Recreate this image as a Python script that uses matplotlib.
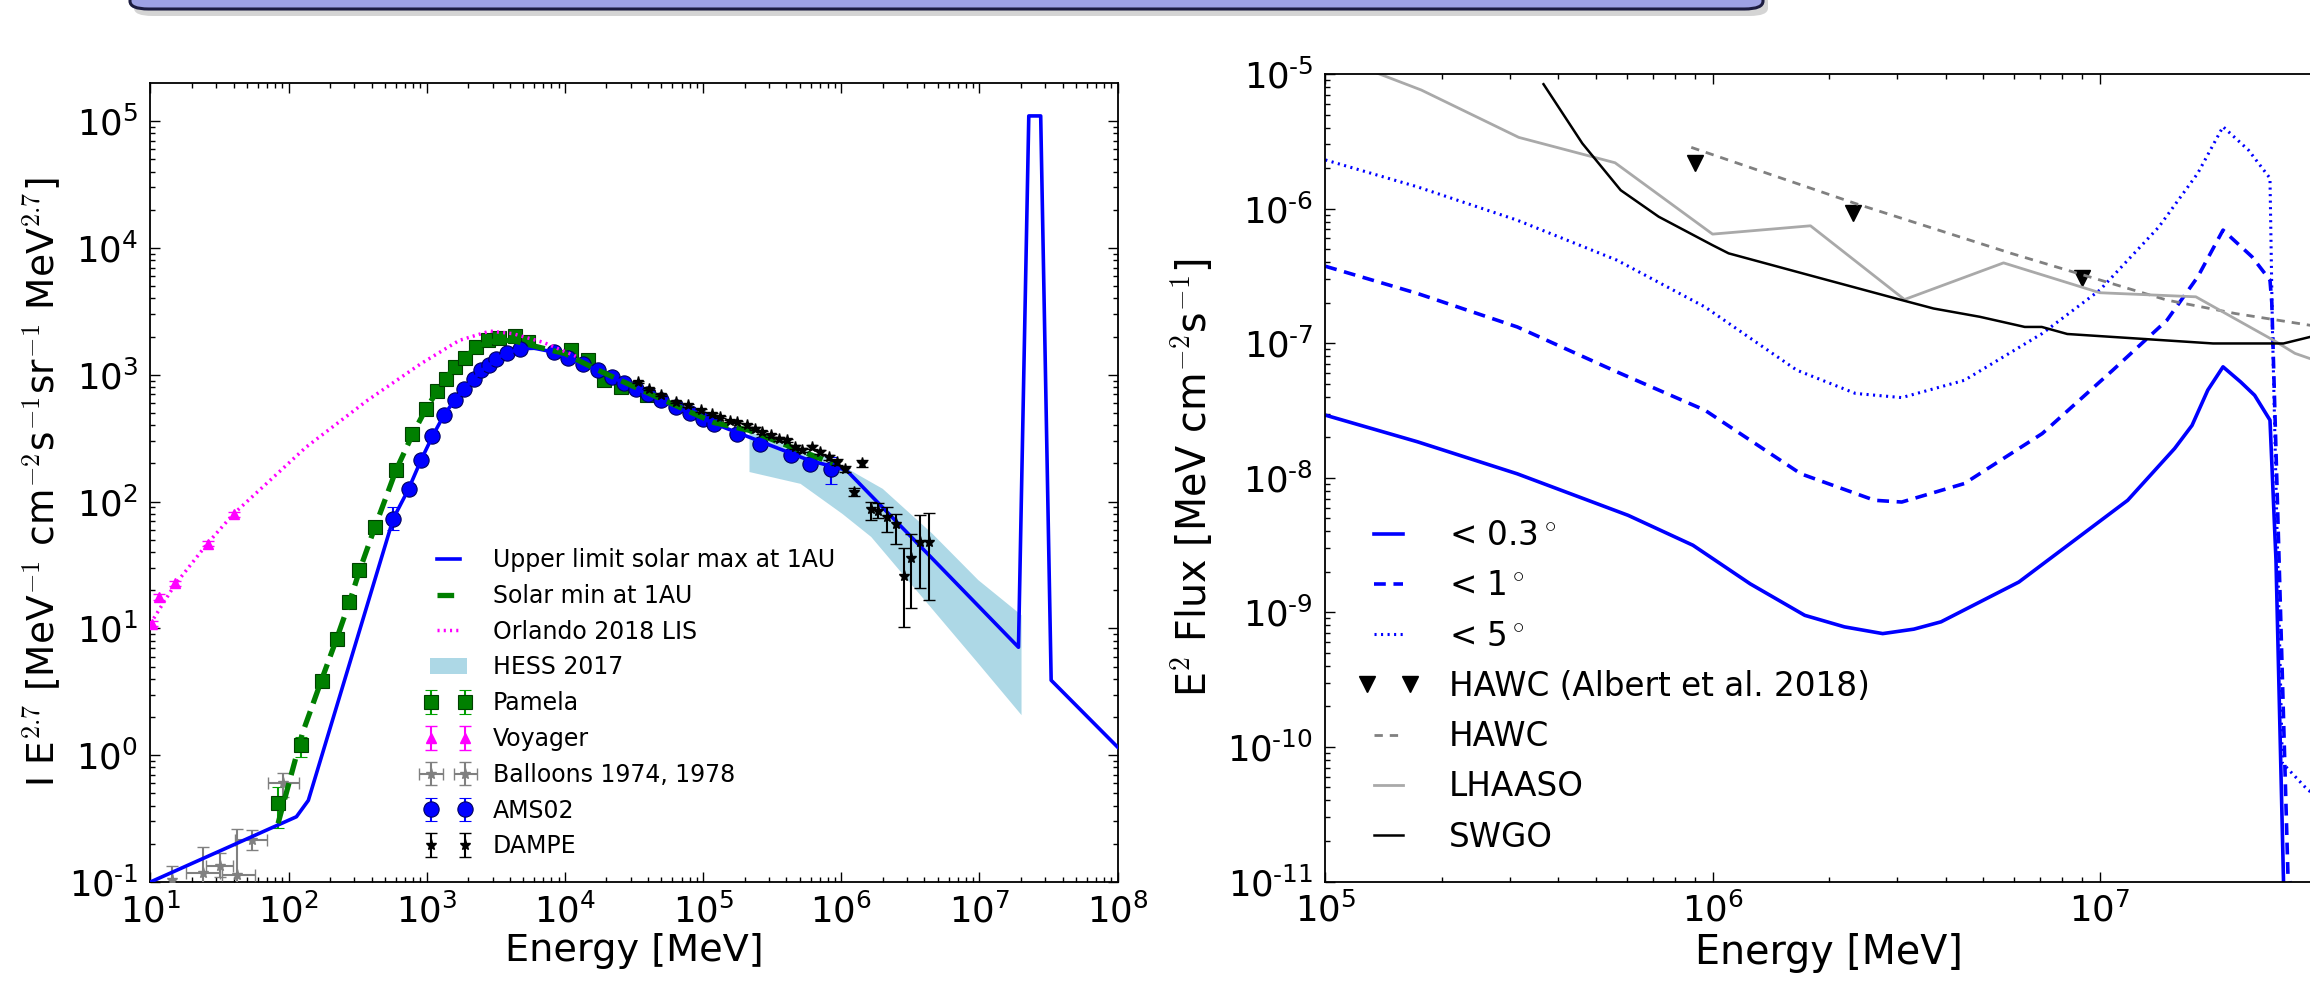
import numpy as np
import matplotlib
matplotlib.use("Agg")
import matplotlib.pyplot as plt
from matplotlib.patches import FancyBboxPatch
from matplotlib.ticker import FixedLocator, FuncFormatter, NullFormatter
from matplotlib.legend_handler import HandlerLine2D, HandlerErrorbar

# ---------------- left panel: proton spectrum ----------------
e_max = [10, 114, 139, 573, 740, 907, 1100, 1330, 1590, 1870, 2190, 2490, 2830, 3150,
         3800, 4760, 6000, 8300, 17300, 32700, 63800, 1.21e5, 2.6e5, 5.9e5, 1.09e6,
         1.92e7, 2.28e7, 2.78e7, 3.31e7, 1e8]
i_max = [0.1, 0.327, 0.44, 73.5, 126, 211, 327, 479, 628, 777, 931, 1083, 1186, 1340,
         1483, 1607, 1620, 1510, 1083, 777, 557, 411, 298, 211, 177,
         7.1, 1.1e5, 1.1e5, 3.9, 1.16]

e_min = [84, 126, 173, 223, 279, 327, 422, 600, 790, 990, 1190, 1370, 1590, 1890, 2290,
         2770, 3350, 4300, 5800, 10000, 17000, 33000, 64000, 1.2e5, 2.15e5, 4.5e5, 8.7e5]
i_min = [0.29, 1.49, 3.9, 8.3, 16.7, 28.8, 63, 177, 339, 541, 740, 931, 1150, 1365, 1652,
         1800, 1880, 1850, 1700, 1470, 1100, 790, 570, 420, 365, 265, 200]

e_lis = [10, 15, 26, 40, 134, 372, 907, 1718, 2863, 4200, 7000, 12000]
i_lis = [10.9, 22, 47, 80, 269, 628, 1222, 1866, 2211, 2110, 1800, 1400]

hess_lo_e = [2.17e5, 5.08e5, 1.02e6, 1.65e6, 9.84e6, 2.02e7]
hess_lo_i = [171, 138, 80, 52.6, 5.28, 2.07]
hess_hi_e = [2.17e5, 7.9e5, 2.0e6, 4.57e6, 9.84e6, 2.02e7]
hess_hi_i = [355, 224, 126, 55.8, 24, 12.7]

pam_e = [84, 124, 176, 223, 273, 323, 422, 600, 788, 986, 1194, 1374, 1589, 1890, 2290,
         2770, 3350, 4330, 5410, 11070, 14760, 19050, 25400, 39600]
pam_i = [0.417, 1.2, 3.86, 8.3, 16.2, 28.8, 63, 177, 339, 541, 740, 931, 1150, 1365, 1652,
         1866, 1960, 2005, 1810, 1575, 1297, 903, 800, 688]
pam_lo = [0.265, 0.97, 3.5, 7.7, 15.2, 27.5, 60, 170, 330, 530, 727, 915, 1130, 1345, 1630,
          1845, 1940, 1985, 1790, 1550, 1270, 880, 780, 665]
pam_hi = [0.56, 1.4, 4.2, 8.9, 17.2, 30.1, 66, 184, 348, 552, 753, 947, 1170, 1385, 1674,
          1887, 1980, 2025, 1830, 1600, 1324, 926, 820, 711]

voy_e = [10.2, 11.5, 15.1, 26, 40.4]
voy_i = [10.9, 17.7, 22.6, 46.7, 79.4]

bal_e = [14.3, 23.9, 31.9, 42, 54, 91.6]
bal_i = [0.104, 0.117, 0.134, 0.114, 0.214, 0.6]
bal_e_lo = [14.3, 18.1, 25.2, 32.8, 41, 70.6]
bal_e_hi = [14.3, 31.9, 39.8, 57.2, 69.5, 119]
bal_i_lo = [0.07, 0.08, 0.11, 0.05, 0.179, 0.47]
bal_i_hi = [0.134, 0.19, 0.168, 0.26, 0.257, 0.73]

ams_e = [573, 740, 907, 1100, 1330, 1590, 1870, 2190, 2490, 2830, 3150, 3800, 4760, 8300,
         10500, 13500, 17300, 22000, 27000, 32700, 40000, 50000, 63800, 80000, 1e5,
         1.21e5, 1.77e5, 2.6e5, 4.33e5, 5.94e5, 8.45e5]
ams_i = [73.5, 126, 211, 327, 479, 628, 777, 931, 1083, 1186, 1340, 1483, 1607, 1510,
         1358, 1213, 1083, 955, 858, 777, 702, 628, 557, 500, 450,
         411, 343, 287, 232, 199, 182]
ams_lo = [59.4] + [v * 0.97 for v in ams_i[1:-1]] + [138]
ams_hi = [90.6] + [v * 1.03 for v in ams_i[1:-1]] + [224]

dam_e = [3.37e4, 4.08e4, 4.95e4, 6.38e4, 7.73e4, 9.66e4, 1.17e5, 1.33e5, 1.56e5, 1.77e5,
         2.08e5, 2.36e5, 2.68e5, 3.1e5, 3.57e5, 4.06e5, 4.61e5, 5.24e5, 6.14e5, 6.98e5,
         8.18e5, 9.29e5, 1.06e6, 1.24e6, 1.41e6, 1.63e6, 1.85e6, 2.13e6, 2.49e6, 2.84e6,
         3.22e6, 3.73e6, 4.3e6]
dam_i = [877, 776, 689, 610, 574, 524, 493, 465, 431, 424,
         399, 376, 353, 333, 313, 304, 269, 254, 269, 246,
         224, 205, 182, 119, 200, 88, 85, 76, 67, 26,
         36, 48, 48]
dam_lo = [860, 760, 675, 598, 562, 513, 482, 455, 421, 414,
          389, 366, 343, 323, 303, 294, 260, 245, 258, 236,
          214, 195, 172, 110, 188, 71, 74, 57.5, 46.7, 10.2,
          14.4, 21, 16.7]
dam_hi = [894, 792, 703, 622, 586, 535, 504, 475, 441, 434,
          409, 386, 363, 343, 323, 314, 278, 263, 280, 256,
          234, 215, 192, 128, 212, 99, 97, 90.6, 80, 42.7,
          56, 78, 81]

# ---------------- right panel: gamma-ray flux ----------------
g_e03 = [1.0e5, 1.73e5, 3.13e5, 6.05e5, 8.9e5, 1.25e6, 1.73e6, 2.19e6, 2.75e6, 3.31e6,
         3.89e6, 6.18e6, 1.18e7, 1.56e7, 1.73e7, 1.9e7, 2.08e7, 2.31e7, 2.51e7, 2.75e7,
         2.85e7, 2.98e7, 3.02e7]
g_f03 = [2.92e-8, 1.85e-8, 1.07e-8, 5.26e-9, 3.15e-9, 1.63e-9, 9.5e-10, 7.8e-10, 6.95e-10,
         7.5e-10, 8.5e-10, 1.68e-9, 6.8e-9, 1.65e-8, 2.45e-8, 4.48e-8, 6.67e-8, 5.15e-8,
         4.1e-8, 2.68e-8, 2.44e-9, 1.02e-11, 1e-12]

g_e1 = [1.0e5, 1.73e5, 3.13e5, 5.66e5, 9.55e5, 1.69e6, 2.62e6, 3.08e6, 4.47e6, 7.1e6,
        1.08e7, 1.49e7, 1.79e7, 2.08e7, 2.47e7, 2.75e7, 2.78e7, 3.06e7, 3.16e7]
g_f1 = [3.73e-7, 2.34e-7, 1.32e-7, 6.12e-8, 3.18e-8, 1.07e-8, 6.8e-9, 6.6e-9, 9.06e-9,
        2.13e-8, 6.3e-8, 1.48e-7, 3.11e-7, 6.92e-7, 4.39e-7, 2.94e-7, 2.0e-7, 1.12e-11,
        8e-12]

g_e5 = [1.0e5, 1.73e5, 3.13e5, 5.66e5, 9.55e5, 1.65e6, 2.34e6, 3.08e6, 4.47e6, 7.1e6,
        1.0e7, 1.42e7, 1.79e7, 2.08e7, 2.42e7, 2.75e7, 2.79e7, 2.96e7, 3.44e7, 4.0e7]
g_f5 = [2.3e-6, 1.45e-6, 8.2e-7, 4.14e-7, 1.86e-7, 6.3e-8, 4.23e-8, 3.94e-8, 5.3e-8, 1.18e-7,
        2.48e-7, 7.3e-7, 1.83e-6, 4.06e-6, 2.72e-6, 1.68e-6, 1.3e-7, 7.6e-11, 4.8e-11, 3.6e-11]

hawc_pts_e = [9.02e5, 2.30e6, 8.97e6]
hawc_pts_f = [2.17e-6, 9.2e-7, 3.03e-7]

hawc_e = [8.81e5, 2.34e6, 5.9e6, 1.49e7, 2.24e7, 3.48e7, 4.0e7]
hawc_f = [2.85e-6, 1.09e-6, 4.65e-7, 2.09e-7, 1.66e-7, 1.36e-7, 1.3e-7]

lhaaso_e = [1.32e5, 1.77e5, 3.16e5, 5.6e5, 1.0e6, 1.79e6, 3.13e6, 5.64e6, 1.0e7, 1.77e7,
            2.81e7, 3.19e7, 3.48e7, 4.0e7]
lhaaso_f = [1.05e-5, 7.6e-6, 3.38e-6, 2.19e-6, 6.46e-7, 7.45e-7, 2.11e-7, 3.95e-7, 2.37e-7,
            2.21e-7, 1.05e-7, 8.4e-8, 7.7e-8, 7.2e-8]

swgo_e = [3.66e5, 4.61e5, 5.79e5, 7.26e5, 9.98e5, 1.1e6, 1.77e6, 3.08e6, 3.72e6, 4.9e6,
          6.4e6, 7.08e6, 8.24e6, 1.96e7, 2.98e7, 3.48e7, 4.0e7]
swgo_f = [8.4e-6, 3.05e-6, 1.37e-6, 8.7e-7, 5.36e-7, 4.65e-7, 3.21e-7, 2.09e-7, 1.81e-7,
          1.57e-7, 1.32e-7, 1.32e-7, 1.17e-7, 9.95e-8, 9.95e-8, 1.11e-7, 1.25e-7]

plt.rcParams['font.family'] = ['DejaVu Sans']
plt.rcParams['mathtext.fontset'] = 'cm'
plt.rcParams['lines.scale_dashes'] = False

W, H = 2310, 982
fig = plt.figure(figsize=(W / 100, H / 100), dpi=100)


def box(x0, y0, x1, y1):
    # pixel box (y measured from the top) -> figure fraction rect
    return [x0 / W, 1 - y1 / H, (x1 - x0) / W, (y1 - y0) / H]


# slide banner cut off at the top
shadow = FancyBboxPatch((134 / W, 1 - 16 / H), 1634 / W, 60 / H, transform=fig.transFigure,
                        boxstyle="round,pad=0,rounding_size=0.008", fc='#b8b8b8',
                        ec='none', alpha=0.6, zorder=0)
fig.patches.append(shadow)
banner = FancyBboxPatch((130 / W, 1 - 9 / H), 1633 / W, 60 / H, transform=fig.transFigure,
                        boxstyle="round,pad=0,rounding_size=0.008", fc='#9ea2e4',
                        ec='#1c1c40', lw=2.2, zorder=1)
fig.patches.append(banner)

ax1 = fig.add_axes(box(150.4, 83, 1117.5, 882))
# right panel runs a little past the right edge of the picture
ax2 = fig.add_axes(box(1325.3, 74, 2333, 881.5))


def decade(v, pos):
    n = int(round(np.log10(v)))
    if n < 0:
        return r'$\mathdefault{10^{\text{-}%d}}$' % (-n)
    return r'$\mathdefault{10^{%d}}$' % n


def log_ticks(lo, hi):
    # decade and sub-decade tick positions that fall inside [lo, hi]
    major = [10.0 ** n for n in range(lo, hi + 1)]
    minor = [k * 10.0 ** n for n in range(lo, hi) for k in range(2, 10)]
    return major, minor


def style(ax, xr, yr):
    ax.set_xscale('log')
    ax.set_yscale('log')
    xmaj, xmin = log_ticks(*xr)
    ymaj, ymin = log_ticks(*yr)
    ax.xaxis.set_major_locator(FixedLocator(xmaj))
    ax.xaxis.set_minor_locator(FixedLocator(xmin))
    ax.yaxis.set_major_locator(FixedLocator(ymaj))
    ax.yaxis.set_minor_locator(FixedLocator(ymin))
    ax.xaxis.set_major_formatter(FuncFormatter(decade))
    ax.yaxis.set_major_formatter(FuncFormatter(decade))
    ax.xaxis.set_minor_formatter(NullFormatter())
    ax.yaxis.set_minor_formatter(NullFormatter())
    ax.tick_params(which='both', direction='in', top=True, right=True, labelsize=25.5)
    ax.tick_params(which='major', length=7, width=1)
    ax.tick_params(which='minor', length=3.5, width=1)
    ax.tick_params(axis='x', pad=8)
    ax.tick_params(axis='y', pad=9)
    for s in ax.spines.values():
        s.set_linewidth(1.3)


style(ax1, (1, 8), (-1, 5))
style(ax2, (5, 7), (-11, -5))

# ---- left panel ----
hess = ax1.fill(hess_lo_e + hess_hi_e[::-1], hess_lo_i + hess_hi_i[::-1],
                color='lightblue', lw=0, zorder=1, label='HESS 2017')[0]
l_max, = ax1.plot(e_max, i_max, color='b', lw=2.6, zorder=4,
                  label='Upper limit solar max at 1AU')
l_min, = ax1.plot(e_min, i_min, color='#007f00', lw=3.8, dashes=(12, 6), zorder=4,
                  label='Solar min at 1AU')
l_lis, = ax1.plot(e_lis, i_lis, color='magenta', lw=2.5, dashes=(1.5, 3), zorder=4,
                  label='Orlando 2018 LIS')

pam_i_arr = np.array(pam_i)
pam = ax1.errorbar(pam_e, pam_i, yerr=[pam_i_arr - pam_lo, np.array(pam_hi) - pam_i_arr],
                   fmt='s', color='#007f00', ecolor='#00a000', mec='#004000', mew=0.8,
                   ms=10.5, capsize=4, elinewidth=1.5, zorder=3, label='Pamela')
voy = ax1.errorbar(voy_e, voy_i, yerr=[np.array(voy_i) * 0.05, np.array(voy_i) * 0.05],
                   fmt='^', color='magenta', mec='magenta', ms=7, capsize=4,
                   elinewidth=1.5, zorder=3, label='Voyager')
bal_e_arr, bal_i_arr = np.array(bal_e), np.array(bal_i)
bal = ax1.errorbar(bal_e, bal_i,
                   xerr=[bal_e_arr - bal_e_lo, np.array(bal_e_hi) - bal_e_arr],
                   yerr=[bal_i_arr - bal_i_lo, np.array(bal_i_hi) - bal_i_arr],
                   fmt='*', color='gray', mec='gray', ms=8, capsize=4, elinewidth=1.5,
                   zorder=3, label='Balloons 1974, 1978')
ams_i_arr = np.array(ams_i)
ams = ax1.errorbar(ams_e, ams_i, yerr=[ams_i_arr - ams_lo, np.array(ams_hi) - ams_i_arr],
                   fmt='o', color='b', mec='#000060', mew=0.8, ms=11, capsize=4,
                   elinewidth=1.5, zorder=3, label='AMS02')
dam_i_arr = np.array(dam_i)
dam = ax1.errorbar(dam_e, dam_i, yerr=[dam_i_arr - dam_lo, np.array(dam_hi) - dam_i_arr],
                   fmt='*', color='k', ms=8, capsize=4, elinewidth=1.5, zorder=5,
                   label='DAMPE')

ax1.set_xlim(10, 1e8)
ax1.set_ylim(0.1, 2e5)
ax1.set_xlabel('Energy [MeV]', fontsize=27.5, labelpad=3)
ax1.set_ylabel(r'I E$^{2.7}$ [MeV$^{-1}$ cm$^{-2}$s$^{-1}$sr$^{-1}$ MeV$^{2.7}$]',
               fontsize=27, labelpad=4)

left_handles = [l_max, l_min, l_lis, hess, pam, voy, bal, ams, dam]
eb_handler = HandlerErrorbar(marker_pad=0.05)
ax1.legend(left_handles, [h.get_label() for h in left_handles],
           loc='upper left', bbox_to_anchor=(430 / W, 1 - 548 / H),
           bbox_transform=fig.transFigure, frameon=False, fontsize=17, numpoints=2,
           handlelength=1.55, handletextpad=1.1, borderpad=0, borderaxespad=0,
           labelspacing=0.5,
           handler_map={pam: eb_handler, voy: eb_handler, bal: eb_handler,
                        ams: eb_handler, dam: eb_handler})

# ---- right panel ----
g03, = ax2.plot(g_e03, g_f03, color='b', lw=2.6, label=r'< 0.3$^\circ$')
g1, = ax2.plot(g_e1, g_f1, color='b', lw=2.6, dashes=(8.5, 5.5), label=r'< 1$^\circ$')
g5, = ax2.plot(g_e5, g_f5, color='b', lw=2.2, dashes=(1.5, 3.2), label=r'< 5$^\circ$')
hpts, = ax2.plot(hawc_pts_e, hawc_pts_f, 'v', color='k', ms=12, ls='none',
                 label='HAWC (Albert et al. 2018)')
hl, = ax2.plot(hawc_e, hawc_f, color='gray', lw=2, dashes=(6, 5), label='HAWC')
ll, = ax2.plot(lhaaso_e, lhaaso_f, color='darkgray', lw=2, label='LHAASO')
sl, = ax2.plot(swgo_e, swgo_f, color='k', lw=1.8, label='SWGO')

ax2.set_xlim(1e5, 4e7)
ax2.set_ylim(1e-11, 1e-5)
ax2.set_xlabel('Energy [MeV]', fontsize=28.5, labelpad=3)
ax2.set_ylabel(r'E$^2$ Flux [MeV cm$^{-2}$s$^{-1}$]', fontsize=28.5, labelpad=8)

ax2.legend(loc='upper left', bbox_to_anchor=(1364 / W, 1 - 519 / H),
           bbox_transform=fig.transFigure, frameon=False, fontsize=23.5, numpoints=2,
           handlelength=1.5, handletextpad=1.1, borderpad=0, borderaxespad=0,
           labelspacing=0.53, handler_map={hpts: HandlerLine2D(marker_pad=0.1)})

fig.savefig('out.png', dpi=100)
